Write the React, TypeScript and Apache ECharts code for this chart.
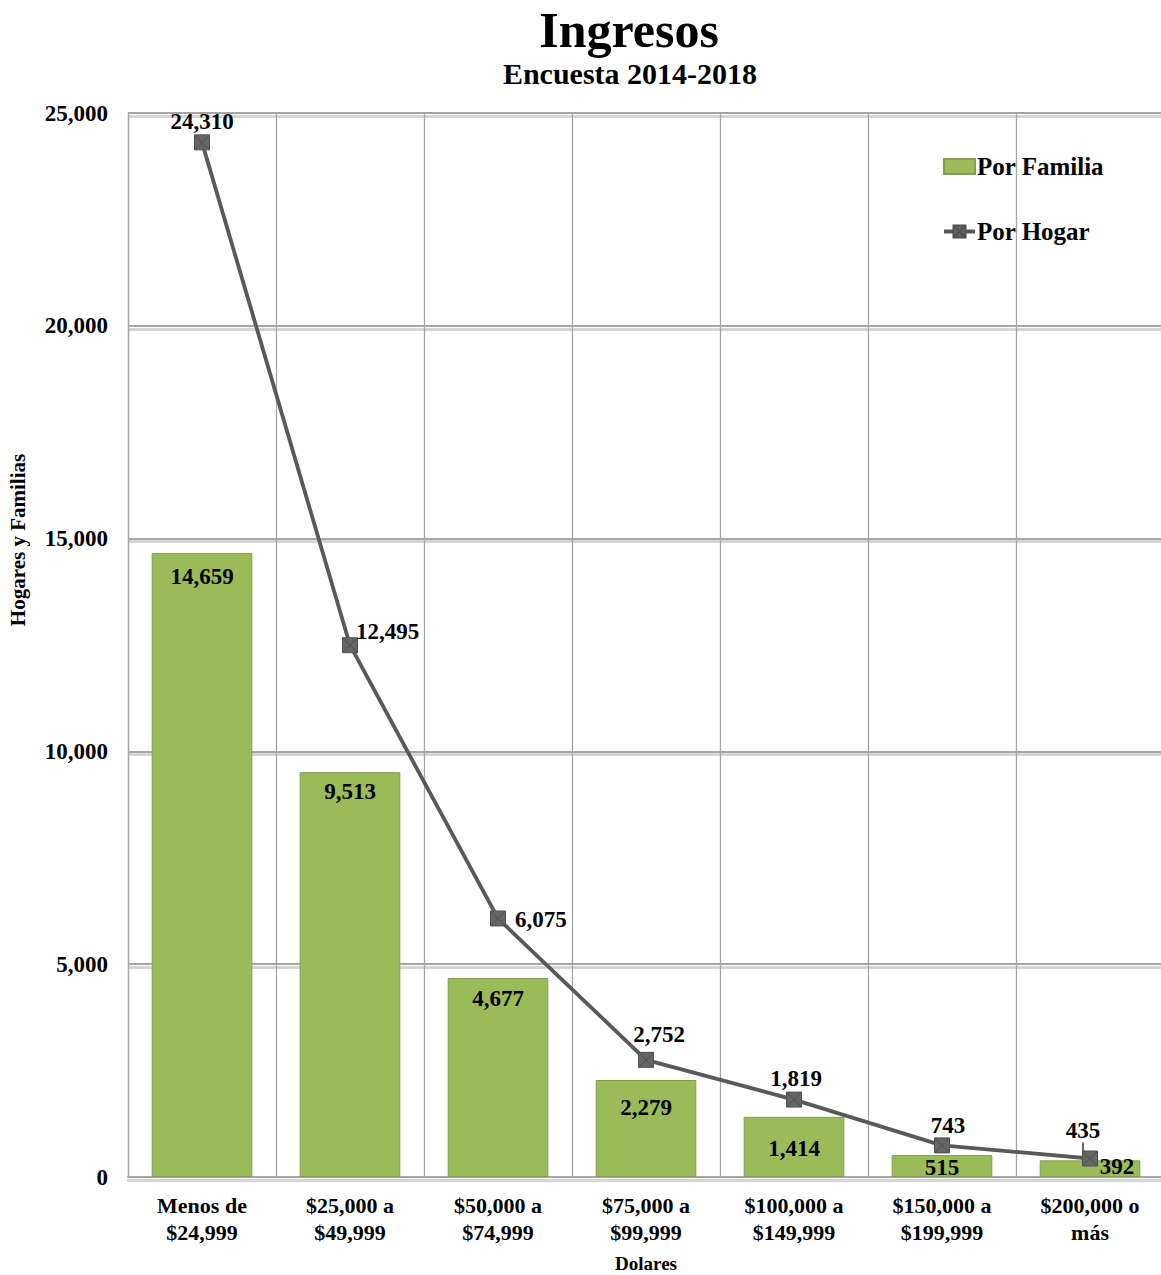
import React, { useEffect, useRef } from "react";
import * as echarts from "echarts";

const categories = [
  "Menos de\n$24,999",
  "$25,000 a\n$49,999",
  "$50,000 a\n$74,999",
  "$75,000 a\n$99,999",
  "$100,000 a\n$149,999",
  "$150,000 a\n$199,999",
  "$200,000 o\nmás",
];
const porFamilia = [14659, 9513, 4677, 2279, 1414, 515, 392];
const porHogar = [24310, 12495, 6075, 2752, 1819, 743, 435];

const FONT = "'Liberation Serif', 'Times New Roman', serif";
const fmt = (v: number) => v.toLocaleString("en-US");

// label placement styles (not data)
const barLabelStyle: any[] = [
  { distance: 12 },
  { distance: 8 },
  { distance: 9 },
  { distance: 16 },
  { distance: 20 },
  { distance: 1 },
  { distance: -5, offset: [27, 0] },
];
const hogarLabelPos: any[] = [
  { position: "top", distance: 2 },
  { position: "right", distance: 2 },
  { position: "right", distance: 6 },
  { position: "top", distance: 3 },
  { position: "top", distance: 4 },
  { position: "top", distance: 4 },
  { position: "top", distance: 8 },
];
const hogarLabelShift: number[][] = [
  [0, 1],
  [-4, -14],
  [3, 1],
  [13, -3],
  [2, 2],
  [6, 4],
  [-7, 0],
];

export default function App() {
  const ref = useRef<HTMLDivElement>(null);
  useEffect(() => {
    if (!ref.current) return;
    const chart = echarts.init(ref.current, null, { renderer: "svg" });
    const mainLine = { color: "#a6a6a6", width: 2 };
    const shadowLine = { color: "#d6d6d6", width: 3 };
    const gridBase = { left: 128, width: 1036, height: 1064, outerBoundsMode: "none" };
    chart.setOption({
      animation: false,
      backgroundColor: "#ffffff",
      textStyle: { fontFamily: FONT },
      title: [
        {
          text: "Ingresos",
          left: 624,
          top: 0,
          textAlign: "center",
          textStyle: { fontFamily: FONT, fontWeight: "bold", fontSize: 50, color: "#000" },
        },
        {
          text: "Encuesta 2014-2018",
          left: 625,
          top: 53,
          textAlign: "center",
          textStyle: { fontFamily: FONT, fontWeight: "bold", fontSize: 30, color: "#000" },
        },
      ],
      graphic: [
        {
          type: "text",
          x: 18,
          y: 540,
          rotation: Math.PI / 2,
          style: {
            text: "Hogares y Familias",
            fontFamily: FONT,
            fontWeight: "bold",
            fontSize: 21,
            fill: "#000",
            align: "center",
            verticalAlign: "middle",
          },
        },
      ],
      legend: {
        orient: "vertical",
        left: 937,
        top: 149,
        itemGap: 40,
        itemWidth: 31,
        itemHeight: 15,
        textStyle: { fontFamily: FONT, fontWeight: "bold", fontSize: 25, color: "#000", padding: [0, 0, 0, -3] },
        data: [
          { name: "Por Familia", icon: "rect" },
          { name: "Por Hogar", lineStyle: { width: 4 } },
        ],
      },
      grid: [
        { ...gridBase, top: 113 },
        { ...gridBase, top: 116 },
      ],
      xAxis: [
        {
          type: "category",
          gridIndex: 0,
          data: categories,
          name: "Dolares",
          nameLocation: "middle",
          nameGap: 77,
          nameTextStyle: { fontFamily: FONT, fontWeight: "bold", fontSize: 19, color: "#000" },
          axisLine: { show: true, lineStyle: mainLine },
          axisTick: { show: false },
          axisLabel: {
            interval: 0,
            margin: 15,
            fontFamily: FONT,
            fontWeight: "bold",
            fontSize: 22,
            lineHeight: 27,
            color: "#000",
          },
          splitLine: { show: true, lineStyle: { color: "#a6a6a6", width: 1.3 } },
          z: 1,
        },
        {
          type: "category",
          gridIndex: 1,
          data: categories,
          axisLine: { show: true, lineStyle: shadowLine },
          axisTick: { show: false },
          axisLabel: { show: false },
          splitLine: { show: false },
          z: 0,
        },
      ],
      yAxis: [
        {
          type: "value",
          gridIndex: 0,
          min: 0,
          max: 25000,
          interval: 5000,
          axisLine: { show: true, lineStyle: { color: "#a6a6a6", width: 1.3 } },
          axisTick: { show: false },
          axisLabel: {
            margin: 20,
            fontFamily: FONT,
            fontWeight: "bold",
            fontSize: 23,
            color: "#000",
            formatter: (v: number) => fmt(v),
          },
          splitLine: { show: true, lineStyle: mainLine },
          z: 1,
        },
        {
          type: "value",
          gridIndex: 1,
          min: 0,
          max: 25000,
          interval: 5000,
          axisLine: { show: false },
          axisTick: { show: false },
          axisLabel: { show: false },
          splitLine: { show: true, lineStyle: shadowLine },
          z: 0,
        },
      ],
      series: [
        {
          name: "Por Familia",
          type: "bar",
          xAxisIndex: 0,
          yAxisIndex: 0,
          barWidth: "68%",
          itemStyle: { color: "#9bbb59", borderColor: "#839f4c", borderWidth: 1 },
          label: {
            show: true,
            position: "insideTop",
            fontFamily: FONT,
            fontWeight: "bold",
            fontSize: 23,
            color: "#000",
            formatter: (p: any) => fmt(p.value),
          },
          data: porFamilia.map((v, i) => ({ value: v, label: barLabelStyle[i] })),
          z: 2,
        },
        {
          name: "Por Hogar",
          type: "line",
          xAxisIndex: 0,
          yAxisIndex: 0,
          symbol: "path://M0 0H10V10H0Z M0 0L10 10M10 0L0 10",
          symbolSize: 15,
          itemStyle: { color: "#666666", borderColor: "#505050", borderWidth: 1 },
          lineStyle: { color: "#595959", width: 3.8 },
          label: {
            show: true,
            fontFamily: FONT,
            fontWeight: "bold",
            fontSize: 23,
            color: "#000",
            formatter: (p: any) => fmt(p.value),
          },
          labelLine: { show: false },
          labelLayout: (params: any) => {
            const s = hogarLabelShift[params.dataIndex] || [0, 0];
            return { dx: s[0], dy: s[1] };
          },
          data: porHogar.map((v, i) =>
            i === 6
              ? {
                  value: v,
                  label: hogarLabelPos[i],
                  labelLine: { show: true, lineStyle: { color: "#000", width: 1.2 } },
                }
              : { value: v, label: hogarLabelPos[i] }
          ),
          z: 3,
        },
      ],
    });
    return () => chart.dispose();
  }, []);
  return (
    <div
      ref={ref}
      style={{ position: "absolute", left: 0, top: 0, width: 1161, height: 1275 }}
    />
  );
}
